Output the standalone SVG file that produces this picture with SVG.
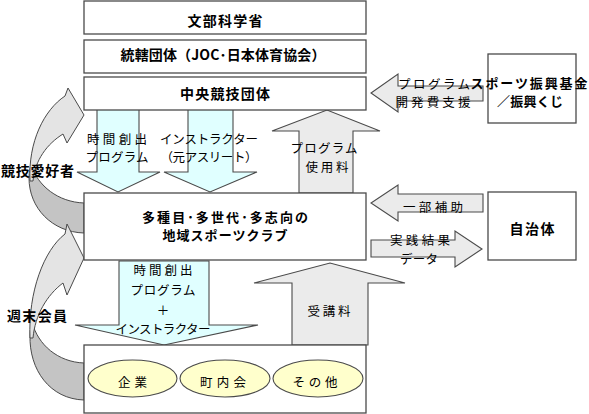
<svg xmlns="http://www.w3.org/2000/svg" width="589" height="414" viewBox="0 0 589 414">
<style>
.box{fill:#ffffff;stroke:#4a4a4a;stroke-width:1.3}
.ell{fill:#ffffcc;stroke:#4a4a4a;stroke-width:1.1}
.ga{fill:#ebebeb;stroke:#4a4a4a;stroke-width:1.1}
.ba{fill:#e0ffff;stroke:#4a4a4a;stroke-width:1.1}
.cl{fill:#e4e4e4;stroke:#4a4a4a;stroke-width:1}
.cd{fill:#c4c4c4;stroke:#4a4a4a;stroke-width:1}
.b{font-family:"Noto Sans CJK JP","Noto Sans CJK SC",sans-serif;font-size:14px;font-weight:bold;fill:#000;text-anchor:middle}
.b2{font-family:"Noto Sans CJK JP","Noto Sans CJK SC",sans-serif;font-size:13px;font-weight:bold;fill:#000;text-anchor:middle}
.r{font-family:"Noto Sans CJK JP","Noto Sans CJK SC",sans-serif;font-size:12.5px;fill:#000;text-anchor:middle}
.l{font-family:"Noto Sans CJK JP","Noto Sans CJK SC",sans-serif;font-size:14px;font-weight:bold;fill:#000}
</style>
<rect width="589" height="414" fill="#ffffff"/>
<g id="connectors">
  <path class="ba" d="M97,109 L139,109 L139,172 L160,172 L118,192 L77,172 L97,172 Z"/>
  <path class="ba" d="M188,109 L233,109 L233,172 L257,172 L210,192 L164,172 L188,172 Z"/>
  <path class="ga" d="M299,193 L299,131 L272,131 L327,110 L380,131 L353,131 L353,193 Z"/>
  <path class="ga" d="M483,86 L483,101 L398,101 L398,112 L371,93 L398,74 L398,86 Z"/>
  <path class="ga" d="M483,194 L483,212 L398,212 L398,221 L371,203 L398,185 L398,194 Z"/>
  <path class="ga" d="M371,240 L455,240 L455,231 L482,249 L455,267 L455,257 L371,257 Z"/>
  <path class="ba" d="M119,261 L209,261 L209,325 L258,325 L164,345 L75,325 L119,325 Z"/>
  <path class="ga" d="M292,345 L292,283 L254,283 L330,263 L405,283 L368,283 L368,345 Z"/>
  <path class="cd" d="M84,233 C52,232 29,208 29,178 C29,172 30,168 31,165 C38,186 58,202 84,203 Z"/>
  <path class="cl" d="M30,181 C28,142 44,110 65,96 L68,88 L84,115 L67,143 L63,134 C47,144 35,160 33,181 Z"/>
  <path class="cd" d="M84,400 C50,399 29,370 30,335 C30,330 31,326 32,322 C38,345 58,362 84,363 Z"/>
  <path class="cl" d="M30,338 C28,292 44,250 65,234 L67,224 L84,258 L67,295 L63,283 C47,295 35,315 33,338 Z"/>
  <text class="r" x="434" y="89" textLength="72">プログラム</text>
  <text class="r" x="433" y="107" textLength="75">開発費支援</text>
  <text class="r" x="324" y="153" textLength="67">プログラム</text>
  <text class="r" x="327" y="172" textLength="43">使用料</text>
  <text class="r" x="433" y="212" textLength="60">一部補助</text>
  <text class="r" x="420" y="245" textLength="60">実践結果</text>
  <text class="r" x="419" y="264" textLength="38">データ</text>
  <text class="r" x="329" y="316" textLength="43">受講料</text>
  <text class="r" x="117" y="144" textLength="60">時間創出</text>
  <text class="r" x="117" y="162" textLength="63">プログラム</text>
  <text class="r" x="209" y="144" textLength="98">インストラクター</text>
  <text class="r" x="209" y="162" textLength="97">（元アスリート）</text>
  <text class="r" x="163" y="275" textLength="59">時間創出</text>
  <text class="r" x="163" y="295" textLength="65">プログラム</text>
  <text class="r" x="163" y="315">＋</text>
  <text class="r" x="163" y="334" textLength="95">インストラクター</text>
  <text class="l" x="1" y="176" textLength="73">競技愛好者</text>
  <text class="l" x="7" y="321" textLength="60">週末会員</text>
</g>
<g id="mext">
  <rect class="box" x="84" y="1" width="282" height="33"/>
  <text class="b" x="225" y="26" textLength="75">文部科学省</text>
</g>
<g id="tokatsu">
  <rect class="box" x="84" y="40" width="282" height="33"/>
  <text class="b" x="223" y="60" textLength="205">統轄団体（JOC･日本体育協会）</text>
</g>
<g id="chuo">
  <rect class="box" x="84" y="77" width="282" height="33"/>
  <text class="b" x="225" y="99" textLength="90">中央競技団体</text>
</g>
<g id="club">
  <rect class="box" x="84" y="193" width="282" height="67"/>
  <text class="b2" x="225" y="222" textLength="166">多種目･多世代･多志向の</text>
  <text class="b2" x="225" y="240" textLength="125">地域スポーツクラブ</text>
</g>
<g id="fund">
  <rect class="box" x="488" y="54" width="88" height="69"/>
  <text class="b2" x="529" y="88" textLength="117">スポーツ振興基金</text>
  <text class="b2" x="530" y="106" textLength="66">／振興くじ</text>
</g>
<g id="jichitai">
  <rect class="box" x="488" y="192" width="88" height="68"/>
  <text class="b" x="532" y="234" textLength="45">自治体</text>
</g>
<g id="local">
  <rect class="box" x="84" y="345" width="282" height="68"/>
  <g id="kigyo">
    <ellipse class="ell" cx="132.5" cy="378.5" rx="44.5" ry="18.5"/>
    <text class="r" x="132.5" y="387" textLength="29">企業</text>
  </g>
  <g id="chonaikai">
    <ellipse class="ell" cx="225" cy="378.5" rx="45" ry="18.5"/>
    <text class="r" x="223" y="387" textLength="46">町内会</text>
  </g>
  <g id="sonota">
    <ellipse class="ell" cx="318" cy="378.5" rx="45" ry="18.5"/>
    <text class="r" x="315" y="387" textLength="45">その他</text>
  </g>
</g>
</svg>
